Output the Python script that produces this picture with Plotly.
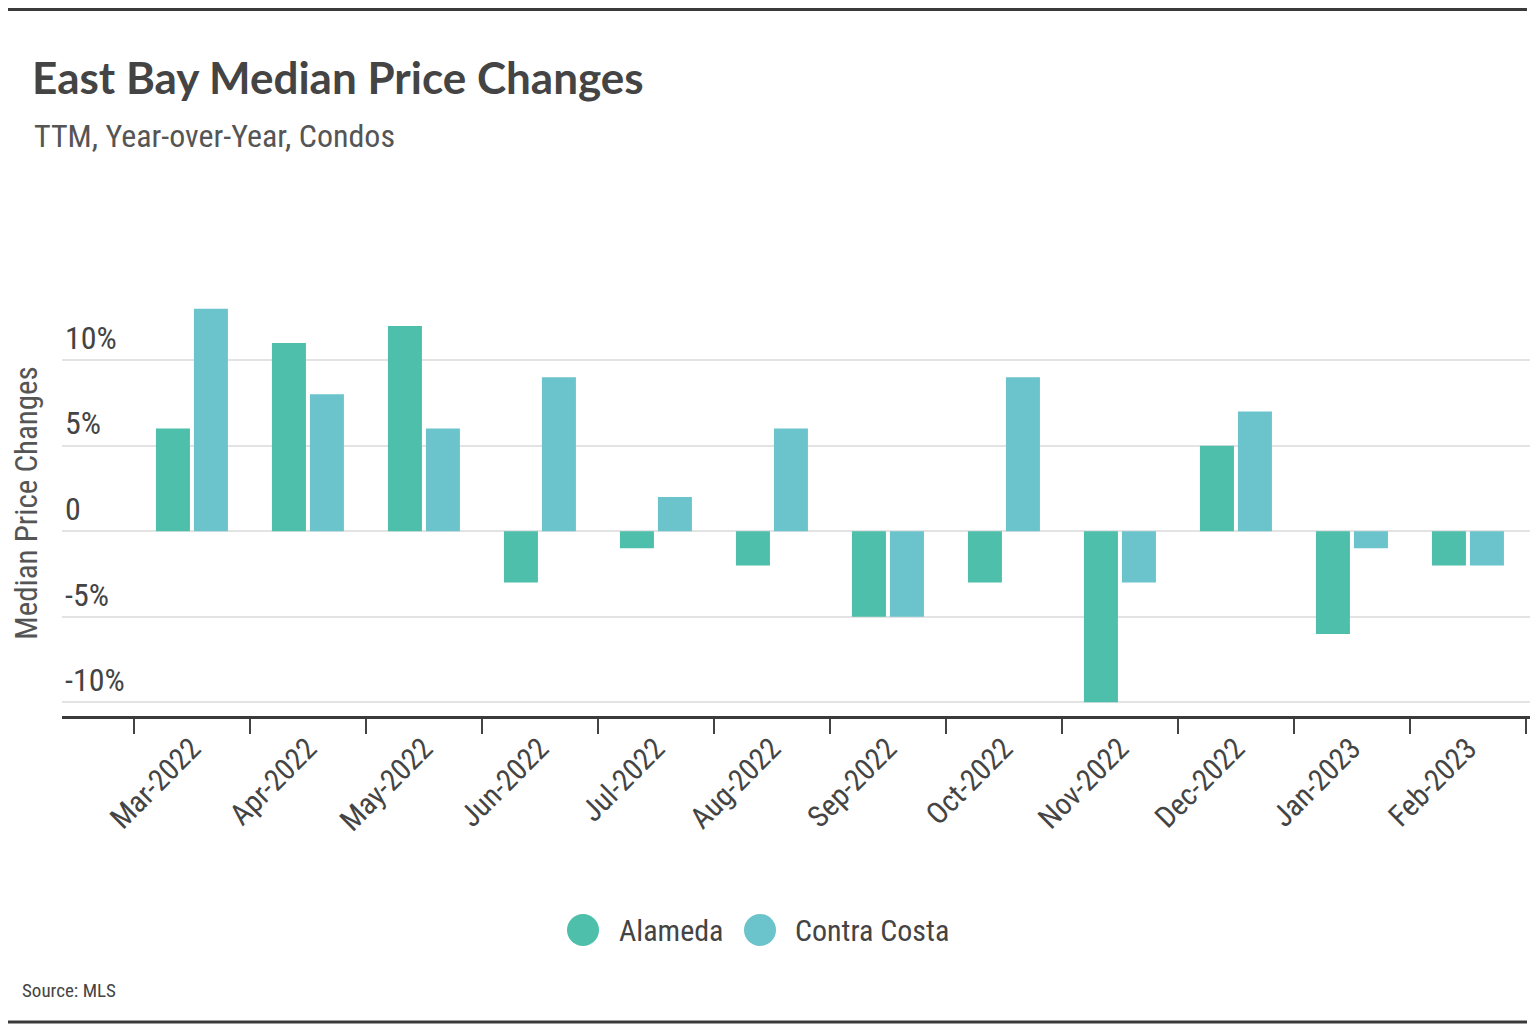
import plotly.graph_objects as go

months = ["Mar-2022", "Apr-2022", "May-2022", "Jun-2022", "Jul-2022", "Aug-2022",
          "Sep-2022", "Oct-2022", "Nov-2022", "Dec-2022", "Jan-2023", "Feb-2023"]
alameda = [6, 11, 12, -3, -1, -2, -5, -3, -10, 5, -6, -2]
contra_costa = [13, 8, 6, 9, 2, 6, -5, 9, -3, 7, -1, -2]
y_ticks = [-10, -5, 0, 5, 10]
y_tick_labels = ["-10%", "-5%", "0", "5%", "10%"]

C_ALA = "#4dbfaa"
C_CC = "#6bc3cc"
NARROW = "Liberation Sans Narrow, Roboto Condensed, Roboto, sans-serif"

OFF = 8  # page body margin
W, H = 1538 - OFF, 1034 - OFF
# plot area in reference (screen) pixels: x 62..1530, y 290..716
SX0, SX1, SY0, SY1 = 62, 1530, 290, 716
L, R = SX0 - OFF, W - (SX1 - OFF)
T, B = SY0 - OFF, H - (SY1 - OFF)
PW, PH = SX1 - SX0, SY1 - SY0


def px(x):
    return (x - SX0) / PW


def py(y):
    return (SY1 - y) / PH


fig = go.Figure()
fig.add_trace(go.Bar(x=months, y=alameda, name="Alameda", marker_color=C_ALA,
                     marker_line_width=0, showlegend=False))
fig.add_trace(go.Bar(x=months, y=contra_costa, name="Contra Costa", marker_color=C_CC,
                     marker_line_width=0, showlegend=False))

shapes = [
    dict(type="line", xref="paper", yref="paper", x0=px(OFF), x1=px(1527), y0=py(9.5), y1=py(9.5),
         line=dict(color="#3a3a3a", width=3)),
    dict(type="line", xref="paper", yref="paper", x0=px(OFF), x1=px(1527), y0=py(1022), y1=py(1022),
         line=dict(color="#3a3a3a", width=3)),
]
legend_items = [("Alameda", C_ALA, 583, 617), ("Contra Costa", C_CC, 760, 793)]
annotations = [
    dict(text="TTM, Year-over-Year, Condos", xref="paper", yref="paper", x=px(32), y=py(136),
         xanchor="left", yanchor="middle", showarrow=False,
         font=dict(family=NARROW, size=32, color="#555555")),
    dict(text="Source: MLS", xref="paper", yref="paper", x=px(20), y=py(990),
         xanchor="left", yanchor="middle", showarrow=False,
         font=dict(family=NARROW, size=19, color="#444444")),
]
for name, col, cx, tx in legend_items:
    shapes.append(dict(type="circle", xref="paper", yref="paper", xsizemode="pixel",
                       ysizemode="pixel", xanchor=px(cx), yanchor=py(930),
                       x0=-16, x1=16, y0=-16, y1=16, fillcolor=col, line_width=0))
    annotations.append(dict(text=name, xref="paper", yref="paper", x=px(tx), y=py(930),
                            xanchor="left", yanchor="middle", showarrow=False,
                            font=dict(family=NARROW, size=30, color="#444444")))

fig.update_layout(
    width=W, height=H,
    margin=dict(l=L, r=R, t=T, b=B),
    paper_bgcolor="white", plot_bgcolor="white",
    barmode="group", bargap=0.345, bargroupgap=0.105,
    showlegend=False,
    title=dict(text="<b>East Bay Median Price Changes</b>", xref="container", yref="container",
               x=(32 - OFF) / W, xanchor="left", y=1 - (79 - OFF) / H, yanchor="middle",
               font=dict(family="Lato, Noto Sans, sans-serif", size=44, color="#444444")),
    shapes=shapes,
    annotations=annotations,
    xaxis=dict(
        type="category", range=[-1.12, 11.535], tickson="boundaries",
        ticks="outside", ticklen=15, tickwidth=2, tickcolor="#444444",
        showline=True, linecolor="#3a3a3a", linewidth=3,
        showgrid=False, tickangle=-45,
        tickfont=dict(family=NARROW, size=30, color="#444444"),
    ),
    yaxis=dict(
        range=[-10.8, 14.1], tickvals=y_ticks, ticktext=y_tick_labels,
        ticklabelposition="inside top", showline=False, ticks="",
        showgrid=True, gridcolor="#e3e3e3", gridwidth=2,
        zeroline=True, zerolinecolor="#e3e3e3", zerolinewidth=2,
        tickfont=dict(family=NARROW, size=32, color="#444444"),
        title=dict(text="Median Price Changes", standoff=20,
                   font=dict(family=NARROW, size=31, color="#555555")),
    ),
)

fig.write_html("out.html")
